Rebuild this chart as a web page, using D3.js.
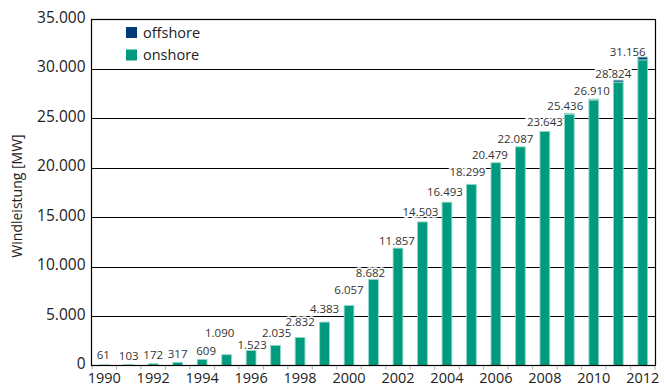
<!DOCTYPE html>
<html>
<head>
<meta charset="utf-8">
<script src="https://cdn.jsdelivr.net/npm/d3@7"></script>
<style>
  html, body { margin: 0; padding: 0; background: #fff; }
  svg { display: block; font-family: "Open Sans", "Noto Sans", sans-serif; }
</style>
</head>
<body>
<svg id="chart" width="666" height="387"></svg>
<script>
// Installed wind power in Germany, cumulative MW per year
const years = [1990, 1991, 1992, 1993, 1994, 1995, 1996, 1997, 1998, 1999, 2000, 2001,
               2002, 2003, 2004, 2005, 2006, 2007, 2008, 2009, 2010, 2011, 2012];
const totalMW = [61, 103, 172, 317, 609, 1090, 1523, 2035, 2832, 4383, 6057, 8682,
                 11857, 14503, 16493, 18299, 20479, 22087, 23643, 25436, 26910, 28824, 31156];
const offshoreMW = [0, 0, 0, 0, 0, 0, 0, 0, 0, 0, 0, 0,
                    0, 0, 0, 0, 0, 0, 12, 72, 92, 200, 280];
const yTicks = [0, 5000, 10000, 15000, 20000, 25000, 30000, 35000];
const xTickYears = [1990, 1992, 1994, 1996, 1998, 2000, 2002, 2004, 2006, 2008, 2010, 2012];
const seriesNames = ["offshore", "onshore"];

// Hand-tuned nudges [dx, dy] for the value labels so neighbouring labels do not collide
const labelNudge = [[-1, -2], [0, -1], [0, -1], [0, 0], [4, 0], [-7, -14], [1, 3], [1, -4],
                    [0, -7], [0, -5], [0, -8], [-3, 1], [-1, 1], [-2, -2], [-2, -2], [-4, -4],
                    [-6, 0], [-5, 0], [0, -1], [-4, 0], [-2, 0], [-5, 2], [-15, 3]];

const colors = { onshore: "#009b7e", offshore: "#003b78" };
const barEdge = "#93d8c9";

const fmt = d3.formatLocale({ decimal: ",", thousands: ".", grouping: [3], currency: ["", ""] }).format(",d");

const svg = d3.select("#chart");
const plotLeft = 91.5, plotRight = 655.5, plotTop = 19, plotBottom = 365.5;

const x = d3.scaleBand().domain(years).range([92, 655]).paddingInner(0.6).paddingOuter(0.3);
const y = d3.scaleLinear().domain([0, 35000]).range([plotBottom, plotTop]);

const rows = years.map((yr, i) => ({
  year: yr,
  total: totalMW[i],
  offshore: offshoreMW[i],
  onshore: totalMW[i] - offshoreMW[i]
}));
const stack = d3.stack().keys(["onshore", "offshore"])(rows);

// grid lines
svg.append("g")
  .selectAll("line")
  .data(yTicks.filter(v => v > 0 && v < 35000))
  .join("line")
  .attr("x1", plotLeft).attr("x2", plotRight)
  .attr("y1", d => Math.round(y(d)) + 0.5).attr("y2", d => Math.round(y(d)) + 0.5)
  .attr("stroke", "#000").attr("stroke-width", 1.2);

// small ticks below the axis at the category boundaries
svg.append("g")
  .selectAll("line")
  .data(d3.range(years.length + 1))
  .join("line")
  .attr("x1", i => 92 + i * x.step()).attr("x2", i => 92 + i * x.step())
  .attr("y1", plotBottom + 1).attr("y2", plotBottom + 4)
  .attr("stroke", "#aaa").attr("stroke-width", 1);

// value label placement
const labelX = (d, i) => x(d.year) + x.bandwidth() / 2 + labelNudge[i][0];
const labelY = (d, i) => y(d.total) - 8 + labelNudge[i][1];

function drawLabels(withHalo) {
  const t = svg.append("g")
    .selectAll("text")
    .data(rows)
    .join("text")
    .attr("x", labelX)
    .attr("y", labelY)
    .attr("dy", "0.35em")
    .attr("text-anchor", "middle")
    .attr("font-size", 11.5)
    .text(d => fmt(d.total));
  if (withHalo) {
    t.attr("fill", "#fff").attr("stroke", "#fff").attr("stroke-width", 3.5);
  } else {
    t.attr("fill", "#333");
  }
}

// white backing behind the labels hides the grid lines under them
drawLabels(true);

// stacked bars
svg.append("g")
  .selectAll("g")
  .data(stack)
  .join("g")
  .attr("fill", s => colors[s.key])
  .selectAll("rect")
  .data(s => s.filter(d => d[1] - d[0] > 0))
  .join("rect")
  .attr("x", d => x(d.data.year))
  .attr("width", x.bandwidth())
  .attr("y", d => y(d[1]))
  .attr("height", d => y(d[0]) - y(d[1]))
  .attr("stroke", barEdge)
  .attr("stroke-width", 0.9);

// frame
svg.append("rect")
  .attr("x", plotLeft).attr("y", plotTop + 0.5)
  .attr("width", plotRight - plotLeft).attr("height", plotBottom - plotTop - 0.5)
  .attr("fill", "none").attr("stroke", "#000").attr("stroke-width", 1.2);

drawLabels(false);

// y axis labels
const yAxis = d3.axisLeft(y).tickValues(yTicks).tickSize(0).tickPadding(6).tickFormat(d => fmt(d));
svg.append("g")
  .attr("transform", `translate(${plotLeft},0)`)
  .call(yAxis)
  .call(g => g.select(".domain").remove())
  .selectAll("text")
  .attr("font-family", "'Open Sans', sans-serif")
  .attr("font-size", 15.5)
  .attr("fill", "#222")
  .attr("dy", "0.22em");

// x axis labels
const xAxis = d3.axisBottom(x).tickValues(xTickYears).tickSize(0).tickPadding(7);
svg.append("g")
  .attr("transform", `translate(0,${plotBottom})`)
  .call(xAxis)
  .call(g => g.select(".domain").remove())
  .selectAll("text")
  .attr("font-family", "'Open Sans', sans-serif")
  .attr("font-size", 14.5)
  .attr("fill", "#222");

// y axis title
svg.append("text")
  .attr("transform", "translate(22,196) rotate(-90)")
  .attr("text-anchor", "middle")
  .attr("font-size", 14)
  .attr("fill", "#222")
  .text("Windleistung [MW]");

// legend
const legend = svg.append("g")
  .selectAll("g")
  .data(seriesNames)
  .join("g")
  .attr("transform", (d, i) => `translate(126,${27 + i * 22.5})`);
legend.append("rect")
  .attr("width", 11).attr("height", 11)
  .attr("fill", d => colors[d]);
legend.append("text")
  .attr("x", 17).attr("y", 10.5)
  .attr("font-size", 14.5)
  .attr("fill", "#222")
  .text(d => d);
</script>
</body>
</html>
